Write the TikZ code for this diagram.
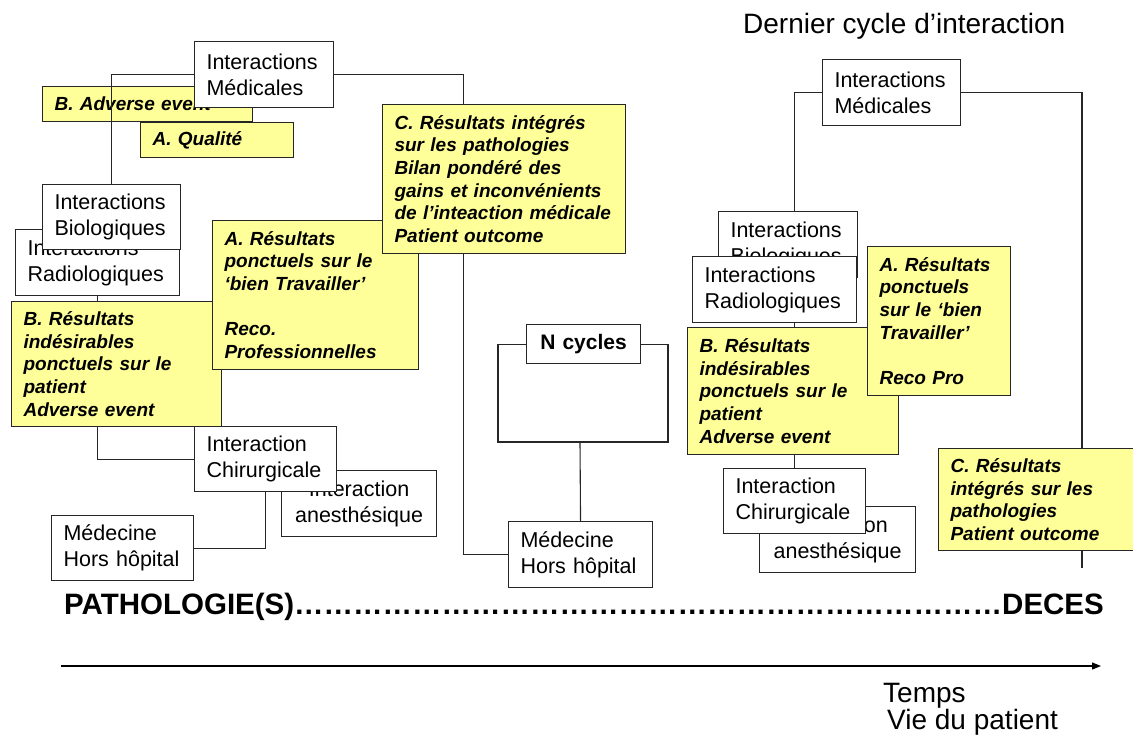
\documentclass[tikz,border=0pt]{standalone}
\usepackage{fontspec}
\setmainfont{Liberation Sans}
\usetikzlibrary{arrows.meta}
\pgfdeclarelayer{background}
\pgfsetlayers{background,main}
\definecolor{notejaune}{RGB}{255,255,153}
\begin{document}
\begin{tikzpicture}[x=1pt,y=-1pt,
  box/.style={draw=black!85, line width=1.1pt, fill=white, anchor=north west, align=left,
    inner xsep=12pt, inner ysep=0pt, font=\fontsize{21.5}{26}\selectfont},
  note/.style={box, fill=notejaune, font=\fontsize{19}{22.7}\selectfont\bfseries\itshape},
  link/.style={line width=1.1pt, black!85}]
\path[use as bounding box] (0,0) rectangle (1133,742);
\node[anchor=base west, inner sep=0, font=\fontsize{28}{34}\selectfont] (titre) at (743,33) {Dernier cycle d’interaction};
% premier cycle
\node[box, text width=140pt, minimum height=66] (radio1) at (15,229) {Interactions\\Radiologiques};
\node[box, text width=114pt, minimum height=65] (bio1) at (42,184) {Interactions\\Biologiques};
\node[note, text width=129pt, minimum height=35] (qualA) at (140,122) {A. Qualité};
\node[box, text width=115pt, minimum height=66] (med1) at (194,41) {Interactions\\Médicales};
\node[note, text width=186pt, minimum height=125] (resB1) at (11,301) {B. Résultats\\indésirables\\ponctuels sur le\\patient\\Adverse event};
\node[note, text width=182pt, minimum height=149] (resA1) at (212,220) {A. Résultats\\ponctuels sur le\\‘bien Travailler’\\[22.7pt]Reco.\\Professionnelles};
\node[note, text width=219pt, minimum height=149] (resC1) at (382,104) {C. Résultats intégrés\\sur les pathologies\\Bilan pondéré des\\gains et inconvénients\\de l’inteaction médicale\\Patient outcome};
\node[box, align=center, text width=131pt, minimum height=66] (anes1) at (281,470) {Interaction\\anesthésique};
\node[box, text width=118pt, minimum height=65] (chir1) at (194,426) {Interaction\\Chirurgicale};
\node[box, text width=118pt, minimum height=65] (medH1) at (51,515) {Médecine\\Hors hôpital};
% N cycles
\node[box, align=center, text width=90pt, minimum height=39, font=\fontsize{21}{26}\selectfont\bfseries] (ncyc) at (526,324) {N cycles};
\node[box, text width=120pt, minimum height=66] (medH2) at (508,521) {Médecine\\Hors hôpital};
\coordinate (nloop) at (580,442);
% dernier cycle
\node[box, text width=115pt, minimum height=66] (bio2) at (718,211) {Interactions\\Biologiques};
\node[box, text width=140pt, minimum height=66] (radio2) at (692,256) {Interactions\\Radiologiques};
\node[box, text width=114pt, minimum height=66] (med2) at (822,59) {Interactions\\Médicales};
\node[note, text width=187pt, minimum height=127] (resB2) at (687,327) {B. Résultats\\indésirables\\ponctuels sur le\\patient\\Adverse event};
\node[note, text width=119pt, minimum height=149] (resA2) at (867,246) {A. Résultats\\ponctuels\\sur le ‘bien\\Travailler’\\[22.7pt]Reco Pro};
\node[box, align=center, text width=132pt, minimum height=66] (anes2) at (759,506) {Interaction\\anesthésique};
\node[box, text width=118pt, minimum height=65] (chir2) at (723,468) {Interaction\\Chirurgicale};
\node[note, text width=186pt, minimum height=102] (resC2) at (938,448) {C. Résultats\\intégrés sur les\\pathologies\\Patient outcome};
\coordinate (fin) at (1082,568);
% axe du temps
\node[anchor=base west, inner sep=0, font=\fontsize{29.5}{34}\selectfont\bfseries] (patho) at (64,614) {PATHOLOGIE(S)\foreach \i in {1,...,24}{…}DECES};
\coordinate (t0) at (61,666);
\coordinate (t1) at (1101,666);
\draw[-{Triangle[length=9pt,width=7pt]}, line width=1.2pt] (t0) -- (t1);
\node[anchor=base west, inner sep=0, font=\fontsize{28}{34}\selectfont] (temps) at (883,702) {Temps};
\node[anchor=base west, inner sep=0, font=\fontsize{28}{34}\selectfont] (vie) at (887,729) {Vie du patient};
\begin{pgfonlayer}{background}
\node[note, text width=186pt, minimum height=35] (advB) at (42,86) {B. Adverse event};
\draw[link] (med1.west) -| (bio1.north);
\draw[link] (med1.east) -- ++(129,0) |- (medH2.west);
\draw[link] (radio1.south) |- (chir1.west);
\draw[link] (chir1.south) |- (medH1.east);
\draw[link] (ncyc.west) -| (498,442) -- (668,442) |- (ncyc.east);
\draw[link] (nloop) -- (medH2.north);
\draw[link] (med2.west) -| (chir2.north);
\draw[link] (med2.east) -| (fin);
\end{pgfonlayer}
\end{tikzpicture}
\end{document}
